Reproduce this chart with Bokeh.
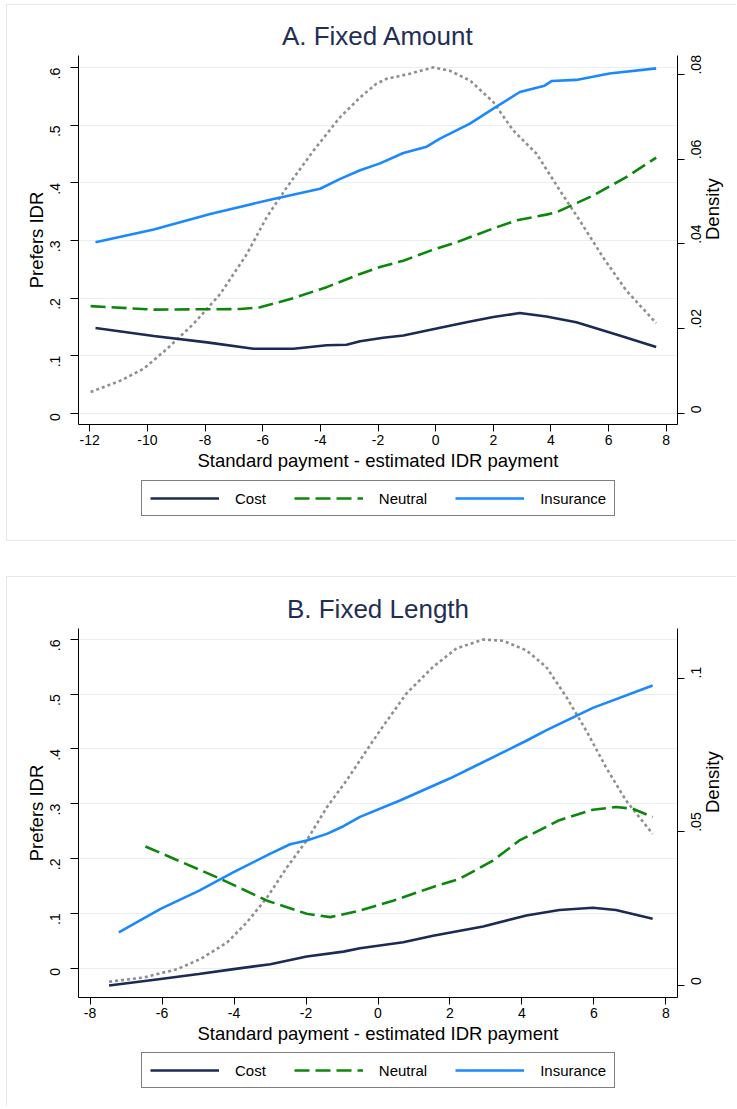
import math
from bokeh.plotting import figure
from bokeh.models import Range1d, LinearAxis, FixedTicker, Legend, LegendItem
from bokeh.layouts import column
from bokeh.embed import file_html
from bokeh.resources import INLINE

# ---------------- Panel A: Fixed Amount ----------------
a_ins_x = [-11.8, -9.78, -7.82, -5.74, -4.01, -3.31, -2.62, -1.93, -1.12, -0.31, 0.15, 1.19, 2.0, 2.92, 3.78, 4.02, 4.88, 6.03, 7.65]
a_ins_y = [0.297, 0.319, 0.346, 0.371, 0.390, 0.407, 0.422, 0.434, 0.452, 0.463, 0.477, 0.503, 0.529, 0.558, 0.569, 0.577, 0.579, 0.590, 0.599]
a_neu_x = [-11.97, -9.78, -6.78, -6.09, -4.93, -3.78, -2.62, -1.93, -1.12, -0.09, 0.73, 2.0, 2.80, 3.84, 4.19, 5.46, 6.61, 7.65]
a_neu_y = [0.186, 0.180, 0.181, 0.184, 0.200, 0.219, 0.242, 0.254, 0.265, 0.284, 0.297, 0.321, 0.335, 0.345, 0.349, 0.378, 0.410, 0.444]
a_cost_x = [-11.8, -9.78, -7.93, -6.32, -4.93, -3.78, -3.09, -2.62, -1.82, -1.12, 0.03, 1.07, 2.0, 2.92, 3.84, 4.88, 6.38, 7.65]
a_cost_y = [0.148, 0.134, 0.123, 0.112, 0.112, 0.118, 0.119, 0.125, 0.131, 0.135, 0.147, 0.158, 0.167, 0.174, 0.168, 0.158, 0.135, 0.115]
a_den_x = [-11.97, -10.93, -10.13, -9.32, -8.40, -7.47, -6.55, -5.86, -5.16, -4.24, -3.32, -2.62, -2.06, -1.70, -0.89, -0.08, 0.49, 1.19, 2.0, 2.69, 3.50, 4.31, 5.0, 5.81, 6.61, 7.65]
a_den_y = [0.0050, 0.0077, 0.0105, 0.0152, 0.0211, 0.0282, 0.0376, 0.0463, 0.0534, 0.0620, 0.0699, 0.0746, 0.0778, 0.0790, 0.0802, 0.0817, 0.0809, 0.0786, 0.0735, 0.0668, 0.0613, 0.0526, 0.0455, 0.0368, 0.0290, 0.0213]
a_xticks = [-12, -10, -8, -6, -4, -2, 0, 2, 4, 6, 8]
a_dticks = [0, 0.02, 0.04, 0.06, 0.08]
a_dlabels = ["0", ".02", ".04", ".06", ".08"]

# ---------------- Panel B: Fixed Length ----------------
b_ins_x = [-7.20, -6.04, -4.98, -4.01, -2.99, -2.44, -1.98, -1.42, -0.96, -0.50, 0.61, 1.99, 2.83, 4.12, 4.67, 5.97, 7.63]
b_ins_y = [0.065, 0.108, 0.141, 0.175, 0.209, 0.226, 0.233, 0.245, 0.259, 0.276, 0.306, 0.346, 0.373, 0.415, 0.434, 0.475, 0.516]
b_neu_x = [-6.46, -4.38, -3.08, -1.98, -1.33, -0.50, 0.42, 1.53, 2.27, 3.19, 3.93, 5.04, 5.97, 6.61, 7.07, 7.63]
b_neu_y = [0.222, 0.163, 0.123, 0.099, 0.093, 0.105, 0.123, 0.148, 0.163, 0.196, 0.233, 0.270, 0.289, 0.294, 0.291, 0.276]
b_cost_x = [-7.47, -6.04, -4.98, -4.01, -2.99, -1.98, -0.96, -0.50, 0.70, 1.53, 2.92, 4.12, 5.04, 5.97, 6.61, 7.63]
b_cost_y = [-0.032, -0.020, -0.011, -0.002, 0.007, 0.021, 0.030, 0.036, 0.047, 0.059, 0.076, 0.096, 0.106, 0.110, 0.106, 0.090]
b_den_x = [-7.47, -6.50, -5.58, -4.93, -4.19, -3.64, -3.08, -2.53, -1.98, -1.42, -0.87, -0.50, 0.06, 0.79, 1.53, 2.18, 2.92, 3.47, 4.12, 4.67, 5.23, 5.78, 6.33, 6.89, 7.63]
b_den_y = [0.0011, 0.0025, 0.0052, 0.0085, 0.0139, 0.0205, 0.0286, 0.0384, 0.0472, 0.0580, 0.0668, 0.0733, 0.0831, 0.0951, 0.1038, 0.1098, 0.1127, 0.1123, 0.1092, 0.1038, 0.0940, 0.0831, 0.0711, 0.0602, 0.0493]
b_xticks = [-8, -6, -4, -2, 0, 2, 4, 6, 8]
b_dticks = [0, 0.05, 0.1]
b_dlabels = ["0", ".05", ".1"]

y_ticks = [0, 0.1, 0.2, 0.3, 0.4, 0.5, 0.6]
y_labels = ["0", ".1", ".2", ".3", ".4", ".5", ".6"]

series_names = ["Cost", "Neutral", "Insurance"]
x_title = "Standard payment - estimated IDR payment"
y_title = "Prefers IDR"
d_title = "Density"

FONT = "Liberation Sans"
C_COST = "#1c2b55"
C_NEU = "#0b870b"
C_INS = "#1a88ff"
C_DEN = "#8f8f8f"
TITLE_C = "#1f2f55"
BORDER_C = "#e2eaed"
LW = 2.6
NEU_DASH = "15 6"


def style_axis(ax, size="14px"):
    ax.axis_line_color = "black"
    ax.axis_line_width = 1
    ax.major_tick_line_color = "black"
    ax.major_tick_out = 7
    ax.major_tick_in = 0
    ax.minor_tick_out = 0
    ax.minor_tick_in = 0
    ax.major_label_text_font = FONT
    ax.major_label_text_font_size = size
    ax.major_label_text_color = "black"
    ax.axis_label_text_font = FONT
    ax.axis_label_text_font_size = "18.5px"
    ax.axis_label_text_font_style = "normal"
    ax.axis_label_text_color = "black"


def make_panel(title, xr, yr, dr, xticks, dticks, dlabels,
               cost, neu, ins, den, width, height, mb):
    p = figure(width=width, height=height, output_backend="svg",
               toolbar_location=None, x_range=Range1d(*xr), y_range=Range1d(*yr),
               min_border_left=mb[0], min_border_right=mb[1],
               min_border_top=mb[2], min_border_bottom=mb[3])
    p.outline_line_color = None
    p.background_fill_color = "white"
    p.border_fill_color = "white"
    p.extra_y_ranges = {"dens": Range1d(*dr)}

    p.title.text = title
    p.title.align = "center"
    p.title.text_font = FONT
    p.title.text_font_size = "26px"
    p.title.text_font_style = "normal"
    p.title.text_color = TITLE_C
    p.title.standoff = 10

    p.xgrid.grid_line_color = None
    p.ygrid.grid_line_color = "#e8eff2"
    p.ygrid.grid_line_width = 1.2
    p.ygrid.ticker = FixedTicker(ticks=y_ticks)

    xa = p.xaxis[0]
    style_axis(xa)
    xa.ticker = FixedTicker(ticks=xticks)
    xa.major_label_overrides = {t: str(t) for t in xticks}
    xa.major_label_standoff = 3
    xa.axis_label = x_title
    xa.axis_label_standoff = 2

    ya = p.yaxis[0]
    style_axis(ya)
    ya.major_tick_out = 8
    ya.ticker = FixedTicker(ticks=y_ticks)
    ya.major_label_overrides = dict(zip(y_ticks, y_labels))
    ya.major_label_orientation = math.pi / 2
    ya.major_label_standoff = 15
    ya.axis_label = y_title
    ya.axis_label_standoff = -4

    da = LinearAxis(y_range_name="dens")
    style_axis(da)
    da.ticker = FixedTicker(ticks=dticks)
    da.major_label_overrides = dict(zip(dticks, dlabels))
    da.major_label_orientation = math.pi / 2
    da.major_label_standoff = 12
    da.axis_label = d_title
    da.axis_label_standoff = 3
    da.axis_label_orientation = math.pi / 2
    p.add_layout(da, "right")

    p.line(den[0], den[1], y_range_name="dens", line_color=C_DEN,
           line_width=LW, line_dash="3 3")
    p.line(cost[0], cost[1], line_color=C_COST, line_width=LW)
    p.line(neu[0], neu[1], line_color=C_NEU, line_width=LW, line_dash=NEU_DASH)
    p.line(ins[0], ins[1], line_color=C_INS, line_width=LW)
    return p


def make_legend(width, height, x0, y0, cost, neu, ins):
    # legend-only strip: series are drawn out of view, only the legend shows
    q = figure(width=width, height=height, output_backend="svg", toolbar_location=None,
               x_axis_location=None, y_axis_location=None,
               x_range=Range1d(100, 101), y_range=Range1d(100, 101),
               min_border_left=0, min_border_right=0, min_border_top=0, min_border_bottom=0)
    q.outline_line_color = None
    q.grid.grid_line_color = None
    q.background_fill_color = "white"
    q.border_fill_color = "white"
    r1 = q.line(cost[0], cost[1], line_color=C_COST, line_width=LW)
    r2 = q.line(neu[0], neu[1], line_color=C_NEU, line_width=LW, line_dash=NEU_DASH)
    r3 = q.line(ins[0], ins[1], line_color=C_INS, line_width=LW)
    legend = Legend(items=[LegendItem(label=series_names[0], renderers=[r1]),
                           LegendItem(label=series_names[1], renderers=[r2]),
                           LegendItem(label=series_names[2], renderers=[r3])],
                    orientation="horizontal", location=(x0, y0))
    legend.label_text_font = FONT
    legend.label_text_font_size = "15px"
    legend.label_text_color = "black"
    legend.glyph_width = 69
    legend.glyph_height = 18
    legend.label_standoff = 16
    legend.spacing = 28
    legend.padding = 8
    legend.margin = 0
    legend.border_line_color = "black"
    legend.border_line_width = 1
    legend.background_fill_color = "white"
    legend.background_fill_alpha = 1
    q.add_layout(legend)
    return q


bd = "1px solid " + BORDER_C
p1 = make_panel("A. Fixed Amount", (-12.39, 8.39), (-0.0196, 0.6214), (-0.00267, 0.0845),
                a_xticks, a_dticks, a_dlabels,
                (a_cost_x, a_cost_y), (a_neu_x, a_neu_y), (a_ins_x, a_ins_y), (a_den_x, a_den_y),
                729, 471, (71, 58, 50, 52))
l1 = make_legend(729, 64, 63, 24, (a_cost_x, a_cost_y), (a_neu_x, a_neu_y), (a_ins_x, a_ins_y))
p2 = make_panel("B. Fixed Length", (-8.32, 8.32), (-0.0538, 0.620), (-0.00405, 0.1163),
                b_xticks, b_dticks, b_dlabels,
                (b_cost_x, b_cost_y), (b_neu_x, b_neu_y), (b_ins_x, b_ins_y), (b_den_x, b_den_y),
                729, 471, (71, 58, 51, 51))
l2 = make_legend(729, 58, 63, 18, (b_cost_x, b_cost_y), (b_neu_x, b_neu_y), (b_ins_x, b_ins_y))

colA = column(p1, l1, spacing=0, margin=(4, 0, 0, 6),
              styles={"border-left": bd, "border-top": bd, "border-bottom": bd})
colB = column(p2, l2, spacing=0, margin=(35, 0, 0, 6),
              styles={"border-left": bd, "border-top": bd})
layout = column(colA, colB, spacing=0)
open("out.html", "w").write(file_html(layout, INLINE))
